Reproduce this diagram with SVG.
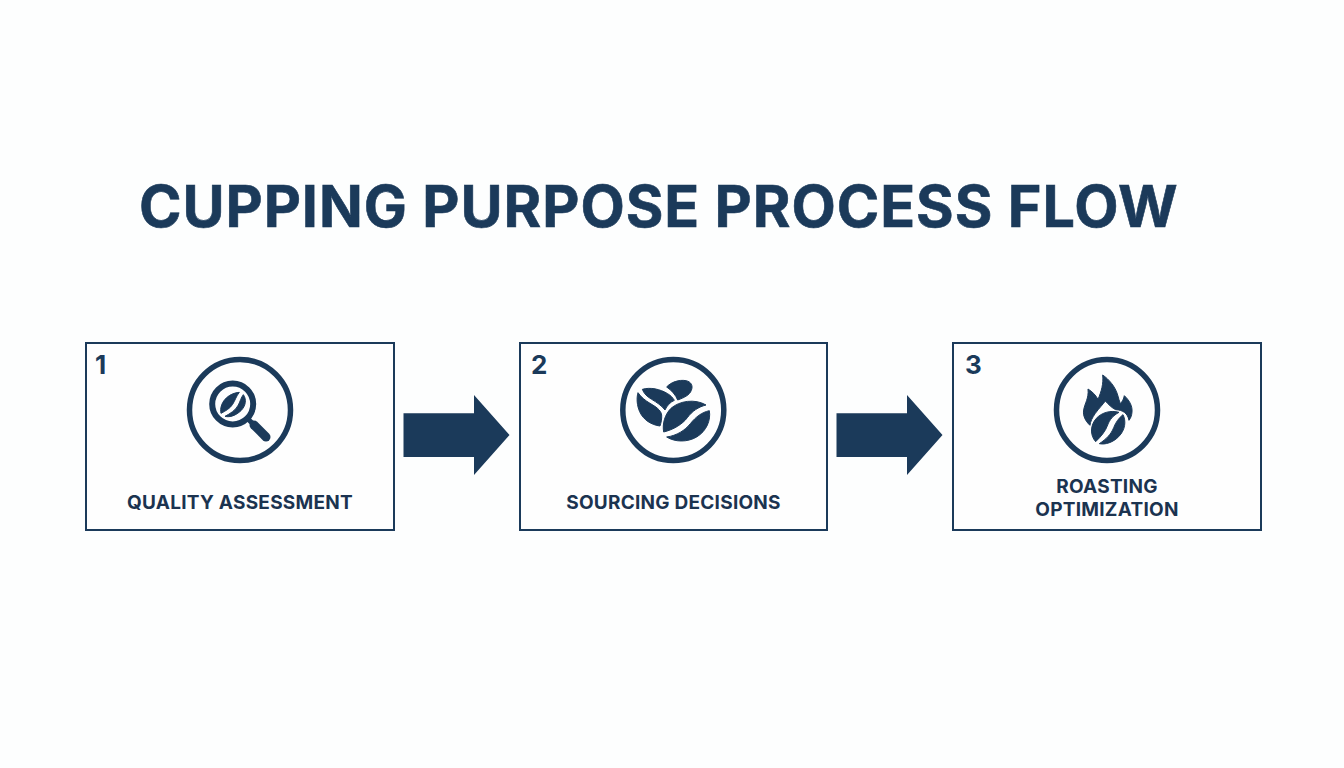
<svg xmlns="http://www.w3.org/2000/svg" width="1344" height="768" viewBox="0 0 1344 768">
<style>
.box{fill:#fefefe;stroke:#1b3a5a;stroke-width:2}
.ring{fill:none;stroke:#1b3a5a;stroke-width:5.5}
.ink{fill:#1b3a5a}
.fat path{stroke:#1b3a5a;stroke-width:3;stroke-linejoin:round}
text{fill:#1b3a5a;font-family:Inter,"Liberation Sans",sans-serif;font-weight:700}
.num{font-size:26px}
.lab{font-size:19px;text-anchor:middle;letter-spacing:.25px;fill:#1b3350}
</style>
<rect width="1344" height="768" fill="#fdfefe"/>
<text id="title" x="139" y="226.500" font-size="57.500" font-weight="800" letter-spacing=".93" stroke="#1b3a5a" stroke-width=".6">CUPPING PURPOSE PROCESS FLOW</text>
<g id="connectors">
<polygon class="ink" points="403.500,413.300 474,413.300 474,395 509.500,435 474,475 474,457 403.500,457"/>
<polygon class="ink" points="836.500,413.300 907,413.300 907,395 942.500,435 907,475 907,457 836.500,457"/>
</g>
<g id="node1">
<rect class="box" x="86" y="343" width="308" height="187"/>
<text class="num" x="95" y="374">1</text>
<circle class="ring" cx="240" cy="410" r="50.500"/>
<circle cx="232.700" cy="404" r="20.500" fill="none" stroke="#1b3a5a" stroke-width="6"/>
<path d="M248 419L255 426" stroke="#1b3a5a" stroke-width="5" fill="none"/>
<path d="M254 425L266 437" stroke="#1b3a5a" stroke-width="9" stroke-linecap="round" fill="none"/>
<g class="fat" transform="translate(170,345) scale(.33333)">
<path class="ink" d="M153 205C147 175 172 145 208 142C199 153 196 165 188 178C180 191 166 198 153 205Z"/>
<path class="ink" d="M165 214C180 206 197 196 205 180C211 168 213 158 220 149C230 162 228 182 213 197C198 211 180 218 165 214Z"/>
</g>
<text class="lab" x="240" y="509">QUALITY ASSESSMENT</text>
</g>
<g id="node2">
<rect class="box" x="520" y="343" width="307" height="187"/>
<text class="num" x="531" y="374">2</text>
<circle class="ring" cx="673.300" cy="410" r="50.500"/>
<g class="fat" transform="translate(605,345) scale(.33333)">
<path class="ink" d="M185 126C197 112 222 103 243 107C258 110 265 122 259 136C254 150 238 158 218 165C212 150 200 136 185 126Z"/>
<path class="ink" d="M112 133C135 126 165 132 188 146C198 152 204 159 208 166C195 172 186 182 180 195C170 182 155 172 140 163C126 155 117 146 112 133Z"/>
<path class="ink" d="M99 143C108 156 120 166 135 175C152 185 168 195 170 210C171 222 168 234 165 243C140 240 115 225 104 200C96 182 94 160 99 143Z"/>
<path class="ink" d="M176 261C172 238 178 210 198 190C222 168 270 160 303 180C280 186 262 198 247 218C232 238 205 254 176 261Z"/>
<path class="ink" d="M313 197C318 225 305 258 275 276C248 292 210 292 185 276C215 272 240 256 256 236C272 216 290 202 313 197Z"/>
</g>
<text class="lab" x="673.500" y="509">SOURCING DECISIONS</text>
</g>
<g id="node3">
<rect class="box" x="953" y="343" width="308" height="187"/>
<text class="num" x="965" y="374">3</text>
<circle class="ring" cx="1107" cy="410" r="50.500"/>
<g class="fat" transform="translate(1037,345) scale(.33333)">
<path class="ink" d="M197 90C215 102 235 125 242 150C245 160 247 168 250 176C256 170 260 162 262 152C276 165 287 182 285 202C284 212 281 220 276 226C272 205 258 195 236 194C226 190 216 180 205 168C198 178 186 190 175 205C166 218 160 230 159 241C145 228 137 212 140 195C143 175 156 160 153 132C166 140 176 150 183 163C193 140 200 115 197 90Z"/>
<path class="ink" d="M176 290C158 270 160 240 178 220C195 202 222 195 246 202C228 212 218 224 212 240C206 258 192 275 176 290Z"/>
<path class="ink" d="M187 296C208 282 222 268 230 248C236 232 246 218 258 209C268 228 265 255 245 275C228 292 205 300 187 296Z"/>
</g>
<text class="lab" x="1107" y="492.500">ROASTING</text>
<text class="lab" x="1107" y="515.500">OPTIMIZATION</text>
</g>
</svg>
